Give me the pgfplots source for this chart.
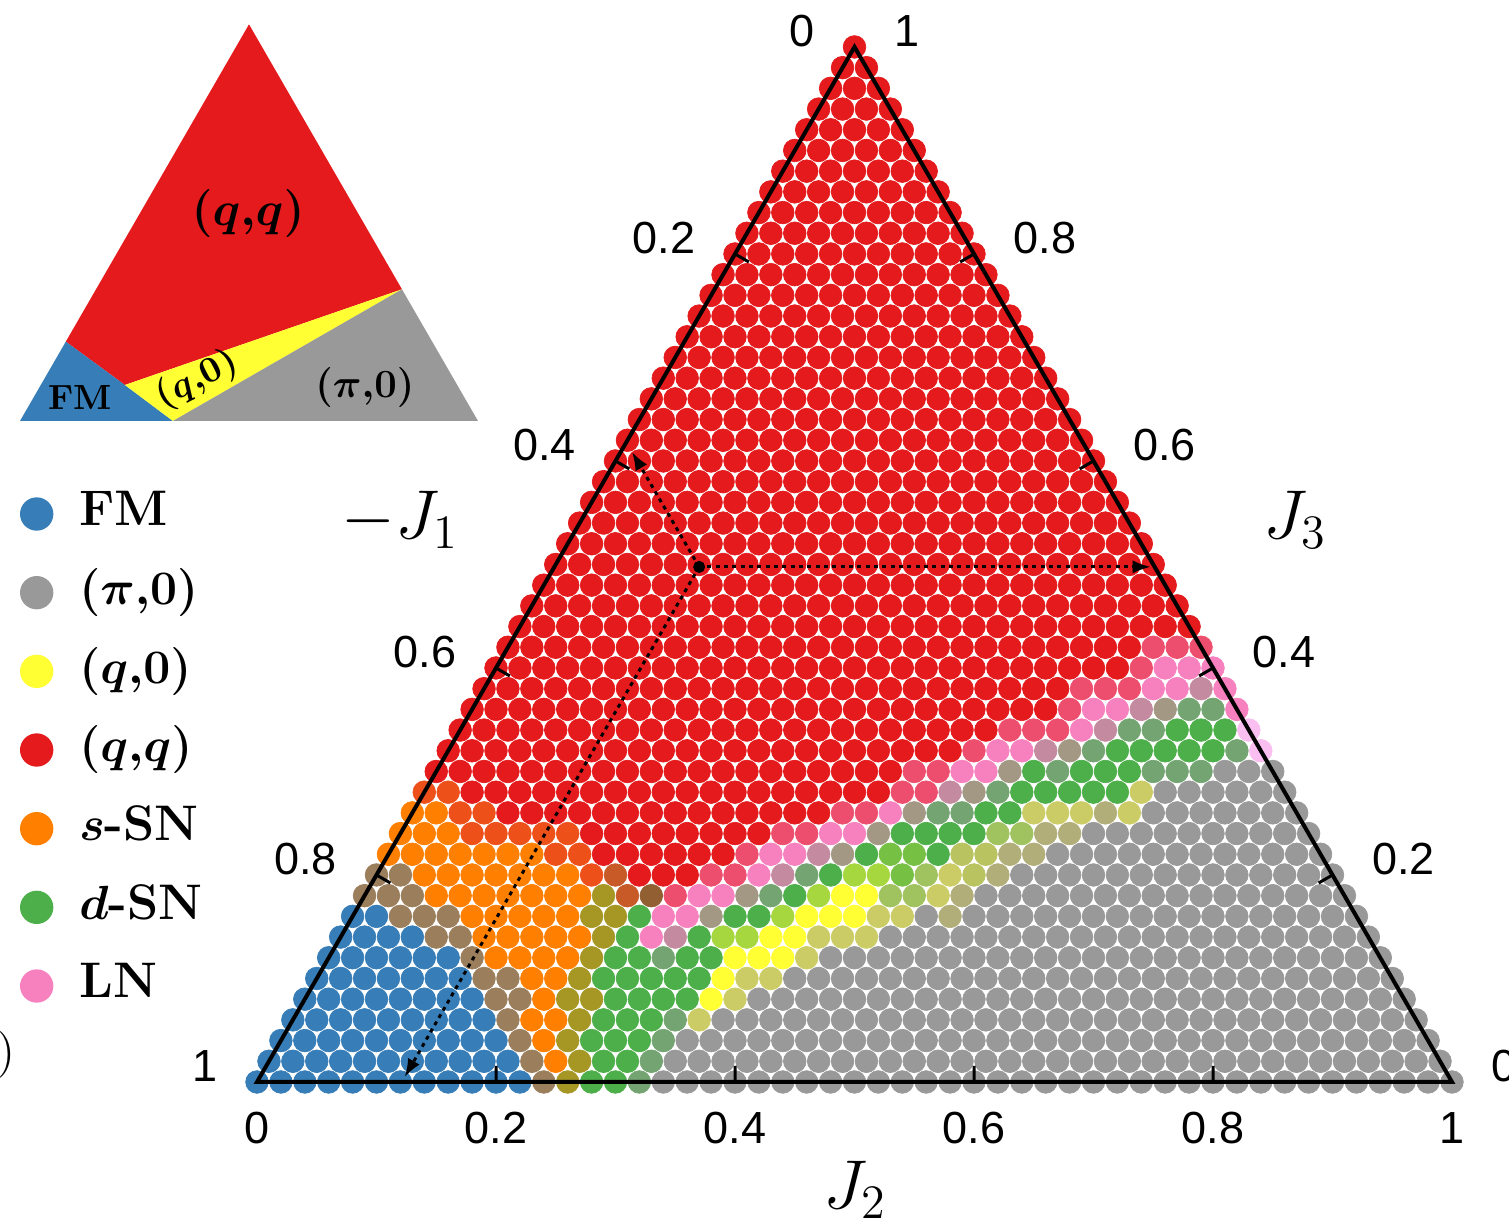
\documentclass[border=0pt]{standalone}
\usepackage[no-math]{fontspec}
\setsansfont{Liberation Sans}
\usepackage{pgfplots}
\pgfplotsset{compat=1.18}
\usetikzlibrary{arrows.meta}
\definecolor{cA}{RGB}{153,153,153}
\definecolor{cB}{RGB}{55,126,184}
\definecolor{cN}{RGB}{155,126,92}
\definecolor{cO}{RGB}{255,127,0}
\definecolor{cL}{RGB}{166,151,37}
\definecolor{cG}{RGB}{77,175,74}
\definecolor{cH}{RGB}{115,164,113}
\definecolor{cK}{RGB}{204,204,102}
\definecolor{cY}{RGB}{255,255,51}
\definecolor{cE}{RGB}{166,215,62}
\definecolor{cF}{RGB}{118,192,67}
\definecolor{cR}{RGB}{228,26,28}
\definecolor{cQ}{RGB}{238,80,26}
\definecolor{cS}{RGB}{237,78,110}
\definecolor{cP}{RGB}{247,129,191}
\definecolor{cM}{RGB}{196,138,160}
\definecolor{cT}{RGB}{162,152,132}
\definecolor{cV}{RGB}{160,194,95}
\definecolor{cU}{RGB}{185,195,95}
\definecolor{cW}{RGB}{178,174,122}
\definecolor{cX}{RGB}{200,90,40}
\definecolor{cD}{RGB}{146,95,50}
\definecolor{cI}{RGB}{250,190,240}
\begin{document}
\begin{tikzpicture}
% ---------------- inset schematic ----------------
\begin{axis}[at={(6pt,241.8pt)}, anchor=south west, scale only axis,
  width=137.4pt, height=118.99pt, xmin=0, xmax=1, ymin=0, ymax=0.8660254,
  hide axis, clip=false]
\addplot[fill=cR, draw=none] coordinates {(0.1,0.1732) (0.5,0.8660254) (0.834,0.2875) (0.229,0.0786) (0.1,0.1732)};
\addplot[fill=cB, draw=none] coordinates {(0,0) (0.1,0.1732) (0.229,0.0786) (0.334,0) (0,0)};
\addplot[fill=cY, draw=none] coordinates {(0.229,0.0786) (0.834,0.2875) (0.334,0) (0.229,0.0786)};
\addplot[fill=cA, draw=none] coordinates {(0.334,0) (0.834,0.2875) (1,0) (0.334,0)};
\node[font=\bfseries\boldmath\fontsize{13.5}{15}\selectfont] at (axis cs:0.498,0.454) {$(q{,}q)$};
\node[font=\bfseries\fontsize{10.5}{12}\selectfont] at (axis cs:0.131,0.052) {FM};
\node[font=\bfseries\boldmath\fontsize{11}{12}\selectfont, rotate=27, inner sep=0pt] at (axis cs:0.387,0.09) {$(q{,}0)$};
\node[font=\bfseries\boldmath\fontsize{11.5}{13}\selectfont] at (axis cs:0.753,0.072) {$(\pi{,}0)$};
\end{axis}
% ---------------- main ternary diagram ----------------
\begin{axis}[at={(77.1pt,43.5pt)}, anchor=south west, scale only axis,
  width=358.5pt, height=310.5pt, xmin=0, xmax=1, ymin=0, ymax=0.8660254,
  hide axis, clip=false, clip mode=individual, unbounded coords=jump,
  scatter/classes={A={cA},B={cB},N={cN},O={cO},L={cL},G={cG},H={cH},K={cK},Y={cY},E={cE},F={cF},Q={cQ},S={cS},P={cP},M={cM},T={cT},V={cV},U={cU},W={cW},X={cX},D={cD},I={cI},R={cR}},
  legend style={at={(axis description cs:-0.1983,0.58)}, anchor=north west, draw=none, fill=none,
    inner sep=0pt, row sep=4.6pt, column sep=6pt, font=\bfseries\boldmath\fontsize{15}{17}\selectfont,
    nodes={text height=11pt, text depth=4pt}, cells={anchor=west}},
  legend cell align=left]
\addlegendimage{only marks, mark=*, mark size=4.8pt, color=cB}
\addlegendentry{FM}
\addlegendimage{only marks, mark=*, mark size=4.8pt, color=cA}
\addlegendentry{$(\pi{,}0)$}
\addlegendimage{only marks, mark=*, mark size=4.8pt, color=cY}
\addlegendentry{$(q{,}0)$}
\addlegendimage{only marks, mark=*, mark size=4.8pt, color=cR}
\addlegendentry{$(q{,}q)$}
\addlegendimage{only marks, mark=*, mark size=4.8pt, color=cO}
\addlegendentry{$s$-SN}
\addlegendimage{only marks, mark=*, mark size=4.8pt, color=cG}
\addlegendentry{$d$-SN}
\addlegendimage{only marks, mark=*, mark size=4.8pt, color=cP}
\addlegendentry{LN}
% red (q,q) points: a = J2 index, b = J3 index (step 1/50)
\addplot[only marks, mark=*, mark size=3.4pt, line width=0.2pt, color=cR, forget plot]
 table[row sep=\\, x expr=(\thisrow{a}+0.5*\thisrow{b})/50, y expr=0.017320508*\thisrow{b}] {
a b\\
11 10\\12 10\\13 10\\
9 11\\10 11\\11 11\\12 11\\13 11\\14 11\\
8 12\\9 12\\10 12\\11 12\\12 12\\13 12\\14 12\\15 12\\
4 13\\5 13\\6 13\\7 13\\8 13\\9 13\\10 13\\11 13\\12 13\\13 13\\14 13\\15 13\\16 13\\17 13\\
2 14\\3 14\\4 14\\5 14\\6 14\\7 14\\8 14\\9 14\\10 14\\11 14\\12 14\\13 14\\14 14\\15 14\\16 14\\17 14\\18 14\\19 14\\
0 15\\1 15\\2 15\\3 15\\4 15\\5 15\\6 15\\7 15\\8 15\\9 15\\10 15\\11 15\\12 15\\13 15\\14 15\\15 15\\16 15\\17 15\\18 15\\19 15\\
0 16\\1 16\\2 16\\3 16\\4 16\\5 16\\6 16\\7 16\\8 16\\9 16\\10 16\\11 16\\12 16\\13 16\\14 16\\15 16\\16 16\\17 16\\18 16\\19 16\\20 16\\21 16\\
0 17\\1 17\\2 17\\3 17\\4 17\\5 17\\6 17\\7 17\\8 17\\9 17\\10 17\\11 17\\12 17\\13 17\\14 17\\15 17\\16 17\\17 17\\18 17\\19 17\\20 17\\21 17\\22 17\\
0 18\\1 18\\2 18\\3 18\\4 18\\5 18\\6 18\\7 18\\8 18\\9 18\\10 18\\11 18\\12 18\\13 18\\14 18\\15 18\\16 18\\17 18\\18 18\\19 18\\20 18\\21 18\\22 18\\23 18\\24 18\\
0 19\\1 19\\2 19\\3 19\\4 19\\5 19\\6 19\\7 19\\8 19\\9 19\\10 19\\11 19\\12 19\\13 19\\14 19\\15 19\\16 19\\17 19\\18 19\\19 19\\20 19\\21 19\\22 19\\23 19\\24 19\\
0 20\\1 20\\2 20\\3 20\\4 20\\5 20\\6 20\\7 20\\8 20\\9 20\\10 20\\11 20\\12 20\\13 20\\14 20\\15 20\\16 20\\17 20\\18 20\\19 20\\20 20\\21 20\\22 20\\23 20\\24 20\\25 20\\26 20\\
0 21\\1 21\\2 21\\3 21\\4 21\\5 21\\6 21\\7 21\\8 21\\9 21\\10 21\\11 21\\12 21\\13 21\\14 21\\15 21\\16 21\\17 21\\18 21\\19 21\\20 21\\21 21\\22 21\\23 21\\24 21\\25 21\\26 21\\
0 22\\1 22\\2 22\\3 22\\4 22\\5 22\\6 22\\7 22\\8 22\\9 22\\10 22\\11 22\\12 22\\13 22\\14 22\\15 22\\16 22\\17 22\\18 22\\19 22\\20 22\\21 22\\22 22\\23 22\\24 22\\25 22\\26 22\\27 22\\28 22\\
0 23\\1 23\\2 23\\3 23\\4 23\\5 23\\6 23\\7 23\\8 23\\9 23\\10 23\\11 23\\12 23\\13 23\\14 23\\15 23\\16 23\\17 23\\18 23\\19 23\\20 23\\21 23\\22 23\\23 23\\24 23\\25 23\\26 23\\27 23\\
0 24\\1 24\\2 24\\3 24\\4 24\\5 24\\6 24\\7 24\\8 24\\9 24\\10 24\\11 24\\12 24\\13 24\\14 24\\15 24\\16 24\\17 24\\18 24\\19 24\\20 24\\21 24\\22 24\\23 24\\24 24\\25 24\\26 24\\
0 25\\1 25\\2 25\\3 25\\4 25\\5 25\\6 25\\7 25\\8 25\\9 25\\10 25\\11 25\\12 25\\13 25\\14 25\\15 25\\16 25\\17 25\\18 25\\19 25\\20 25\\21 25\\22 25\\23 25\\24 25\\25 25\\
0 26\\1 26\\2 26\\3 26\\4 26\\5 26\\6 26\\7 26\\8 26\\9 26\\10 26\\11 26\\12 26\\13 26\\14 26\\15 26\\16 26\\17 26\\18 26\\19 26\\20 26\\21 26\\22 26\\23 26\\24 26\\
0 27\\1 27\\2 27\\3 27\\4 27\\5 27\\6 27\\7 27\\8 27\\9 27\\10 27\\11 27\\12 27\\13 27\\14 27\\15 27\\16 27\\17 27\\18 27\\19 27\\20 27\\21 27\\22 27\\23 27\\
0 28\\1 28\\2 28\\3 28\\4 28\\5 28\\6 28\\7 28\\8 28\\9 28\\10 28\\11 28\\12 28\\13 28\\14 28\\15 28\\16 28\\17 28\\18 28\\19 28\\20 28\\21 28\\22 28\\
0 29\\1 29\\2 29\\3 29\\4 29\\5 29\\6 29\\7 29\\8 29\\9 29\\10 29\\11 29\\12 29\\13 29\\14 29\\15 29\\16 29\\17 29\\18 29\\19 29\\20 29\\21 29\\
0 30\\1 30\\2 30\\3 30\\4 30\\5 30\\6 30\\7 30\\8 30\\9 30\\10 30\\11 30\\12 30\\13 30\\14 30\\15 30\\16 30\\17 30\\18 30\\19 30\\20 30\\
0 31\\1 31\\2 31\\3 31\\4 31\\5 31\\6 31\\7 31\\8 31\\9 31\\10 31\\11 31\\12 31\\13 31\\14 31\\15 31\\16 31\\17 31\\18 31\\19 31\\
0 32\\1 32\\2 32\\3 32\\4 32\\5 32\\6 32\\7 32\\8 32\\9 32\\10 32\\11 32\\12 32\\13 32\\14 32\\15 32\\16 32\\17 32\\18 32\\
0 33\\1 33\\2 33\\3 33\\4 33\\5 33\\6 33\\7 33\\8 33\\9 33\\10 33\\11 33\\12 33\\13 33\\14 33\\15 33\\16 33\\17 33\\
0 34\\1 34\\2 34\\3 34\\4 34\\5 34\\6 34\\7 34\\8 34\\9 34\\10 34\\11 34\\12 34\\13 34\\14 34\\15 34\\16 34\\
0 35\\1 35\\2 35\\3 35\\4 35\\5 35\\6 35\\7 35\\8 35\\9 35\\10 35\\11 35\\12 35\\13 35\\14 35\\15 35\\
0 36\\1 36\\2 36\\3 36\\4 36\\5 36\\6 36\\7 36\\8 36\\9 36\\10 36\\11 36\\12 36\\13 36\\14 36\\
0 37\\1 37\\2 37\\3 37\\4 37\\5 37\\6 37\\7 37\\8 37\\9 37\\10 37\\11 37\\12 37\\13 37\\
0 38\\1 38\\2 38\\3 38\\4 38\\5 38\\6 38\\7 38\\8 38\\9 38\\10 38\\11 38\\12 38\\
0 39\\1 39\\2 39\\3 39\\4 39\\5 39\\6 39\\7 39\\8 39\\9 39\\10 39\\11 39\\
0 40\\1 40\\2 40\\3 40\\4 40\\5 40\\6 40\\7 40\\8 40\\9 40\\10 40\\
0 41\\1 41\\2 41\\3 41\\4 41\\5 41\\6 41\\7 41\\8 41\\9 41\\
0 42\\1 42\\2 42\\3 42\\4 42\\5 42\\6 42\\7 42\\8 42\\
0 43\\1 43\\2 43\\3 43\\4 43\\5 43\\6 43\\7 43\\
0 44\\1 44\\2 44\\3 44\\4 44\\5 44\\6 44\\
0 45\\1 45\\2 45\\3 45\\4 45\\5 45\\
0 46\\1 46\\2 46\\3 46\\4 46\\
0 47\\1 47\\2 47\\3 47\\
0 48\\1 48\\2 48\\
0 49\\1 49\\
0 50\\
};
% all other phases (class letter in column c)
\addplot[scatter, only marks, mark=*, mark size=3.4pt, line width=0.2pt, scatter src=explicit symbolic, forget plot]
 table[row sep=\\, meta=c, x expr=(\thisrow{a}+0.5*\thisrow{b})/50, y expr=0.017320508*\thisrow{b}] {
a b c\\
0 0 B\\1 0 B\\2 0 B\\3 0 B\\4 0 B\\5 0 B\\6 0 B\\7 0 B\\8 0 B\\9 0 B\\10 0 B\\11 0 B\\12 0 N\\13 0 L\\14 0 G\\15 0 G\\16 0 H\\17 0 A\\18 0 A\\19 0 A\\20 0 A\\21 0 A\\22 0 A\\23 0 A\\24 0 A\\25 0 A\\26 0 A\\27 0 A\\28 0 A\\29 0 A\\30 0 A\\31 0 A\\32 0 A\\33 0 A\\34 0 A\\35 0 A\\36 0 A\\37 0 A\\38 0 A\\39 0 A\\40 0 A\\41 0 A\\42 0 A\\43 0 A\\44 0 A\\45 0 A\\46 0 A\\47 0 A\\48 0 A\\49 0 A\\50 0 A\\
0 1 B\\1 1 B\\2 1 B\\3 1 B\\4 1 B\\5 1 B\\6 1 B\\7 1 B\\8 1 B\\9 1 B\\10 1 B\\11 1 N\\12 1 O\\13 1 L\\14 1 G\\15 1 G\\16 1 H\\17 1 A\\18 1 A\\19 1 A\\20 1 A\\21 1 A\\22 1 A\\23 1 A\\24 1 A\\25 1 A\\26 1 A\\27 1 A\\28 1 A\\29 1 A\\30 1 A\\31 1 A\\32 1 A\\33 1 A\\34 1 A\\35 1 A\\36 1 A\\37 1 A\\38 1 A\\39 1 A\\40 1 A\\41 1 A\\42 1 A\\43 1 A\\44 1 A\\45 1 A\\46 1 A\\47 1 A\\48 1 A\\49 1 A\\
0 2 B\\1 2 B\\2 2 B\\3 2 B\\4 2 B\\5 2 B\\6 2 B\\7 2 B\\8 2 B\\9 2 B\\10 2 N\\11 2 O\\12 2 L\\13 2 G\\14 2 G\\15 2 G\\16 2 H\\17 2 A\\18 2 A\\19 2 A\\20 2 A\\21 2 A\\22 2 A\\23 2 A\\24 2 A\\25 2 A\\26 2 A\\27 2 A\\28 2 A\\29 2 A\\30 2 A\\31 2 A\\32 2 A\\33 2 A\\34 2 A\\35 2 A\\36 2 A\\37 2 A\\38 2 A\\39 2 A\\40 2 A\\41 2 A\\42 2 A\\43 2 A\\44 2 A\\45 2 A\\46 2 A\\47 2 A\\48 2 A\\
0 3 B\\1 3 B\\2 3 B\\3 3 B\\4 3 B\\5 3 B\\6 3 B\\7 3 B\\8 3 B\\9 3 N\\10 3 O\\11 3 O\\12 3 L\\13 3 G\\14 3 G\\15 3 G\\16 3 H\\17 3 K\\18 3 A\\19 3 A\\20 3 A\\21 3 A\\22 3 A\\23 3 A\\24 3 A\\25 3 A\\26 3 A\\27 3 A\\28 3 A\\29 3 A\\30 3 A\\31 3 A\\32 3 A\\33 3 A\\34 3 A\\35 3 A\\36 3 A\\37 3 A\\38 3 A\\39 3 A\\40 3 A\\41 3 A\\42 3 A\\43 3 A\\44 3 A\\45 3 A\\46 3 A\\47 3 A\\
0 4 B\\1 4 B\\2 4 B\\3 4 B\\4 4 B\\5 4 B\\6 4 B\\7 4 B\\8 4 N\\9 4 N\\10 4 O\\11 4 L\\12 4 L\\13 4 G\\14 4 G\\15 4 G\\16 4 G\\17 4 Y\\18 4 K\\19 4 A\\20 4 A\\21 4 A\\22 4 A\\23 4 A\\24 4 A\\25 4 A\\26 4 A\\27 4 A\\28 4 A\\29 4 A\\30 4 A\\31 4 A\\32 4 A\\33 4 A\\34 4 A\\35 4 A\\36 4 A\\37 4 A\\38 4 A\\39 4 A\\40 4 A\\41 4 A\\42 4 A\\43 4 A\\44 4 A\\45 4 A\\46 4 A\\
0 5 B\\1 5 B\\2 5 B\\3 5 B\\4 5 B\\5 5 B\\6 5 B\\7 5 N\\8 5 N\\9 5 O\\10 5 O\\11 5 L\\12 5 G\\13 5 G\\14 5 G\\15 5 G\\16 5 G\\17 5 Y\\18 5 K\\19 5 K\\20 5 A\\21 5 A\\22 5 A\\23 5 A\\24 5 A\\25 5 A\\26 5 A\\27 5 A\\28 5 A\\29 5 A\\30 5 A\\31 5 A\\32 5 A\\33 5 A\\34 5 A\\35 5 A\\36 5 A\\37 5 A\\38 5 A\\39 5 A\\40 5 A\\41 5 A\\42 5 A\\43 5 A\\44 5 A\\45 5 A\\
0 6 B\\1 6 B\\2 6 B\\3 6 B\\4 6 B\\5 6 B\\6 6 N\\7 6 O\\8 6 O\\9 6 O\\10 6 O\\11 6 L\\12 6 G\\13 6 G\\14 6 H\\15 6 G\\16 6 G\\17 6 Y\\18 6 Y\\19 6 Y\\20 6 K\\21 6 A\\22 6 A\\23 6 A\\24 6 A\\25 6 A\\26 6 A\\27 6 A\\28 6 A\\29 6 A\\30 6 A\\31 6 A\\32 6 A\\33 6 A\\34 6 A\\35 6 A\\36 6 A\\37 6 A\\38 6 A\\39 6 A\\40 6 A\\41 6 A\\42 6 A\\43 6 A\\44 6 A\\
0 7 B\\1 7 B\\2 7 B\\3 7 B\\4 7 N\\5 7 N\\6 7 O\\7 7 O\\8 7 O\\9 7 O\\10 7 O\\11 7 L\\12 7 G\\13 7 P\\14 7 M\\15 7 G\\16 7 E\\17 7 E\\18 7 Y\\19 7 Y\\20 7 K\\21 7 K\\22 7 K\\23 7 A\\24 7 A\\25 7 A\\26 7 A\\27 7 A\\28 7 A\\29 7 A\\30 7 A\\31 7 A\\32 7 A\\33 7 A\\34 7 A\\35 7 A\\36 7 A\\37 7 A\\38 7 A\\39 7 A\\40 7 A\\41 7 A\\42 7 A\\43 7 A\\
0 8 B\\1 8 B\\2 8 N\\3 8 N\\4 8 N\\5 8 O\\6 8 O\\7 8 O\\8 8 O\\9 8 O\\10 8 L\\11 8 L\\12 8 G\\13 8 P\\14 8 P\\15 8 T\\16 8 G\\17 8 G\\18 8 E\\19 8 Y\\20 8 Y\\21 8 Y\\22 8 K\\23 8 K\\24 8 A\\25 8 W\\26 8 A\\27 8 A\\28 8 A\\29 8 A\\30 8 A\\31 8 A\\32 8 A\\33 8 A\\34 8 A\\35 8 A\\36 8 A\\37 8 A\\38 8 A\\39 8 A\\40 8 A\\41 8 A\\42 8 A\\
0 9 N\\1 9 N\\2 9 N\\3 9 O\\4 9 O\\5 9 O\\6 9 O\\7 9 O\\8 9 O\\9 9 O\\10 9 L\\11 9 X\\12 9 D\\13 9 S\\14 9 P\\15 9 P\\16 9 T\\17 9 H\\18 9 G\\19 9 E\\20 9 Y\\21 9 Y\\22 9 V\\23 9 V\\24 9 K\\25 9 W\\26 9 A\\27 9 A\\28 9 A\\29 9 A\\30 9 A\\31 9 A\\32 9 A\\33 9 A\\34 9 A\\35 9 A\\36 9 A\\37 9 A\\38 9 A\\39 9 A\\40 9 A\\41 9 A\\
0 10 N\\1 10 N\\2 10 O\\3 10 O\\4 10 O\\5 10 O\\6 10 O\\7 10 O\\8 10 O\\9 10 Q\\10 10 X\\14 10 S\\15 10 S\\16 10 P\\17 10 M\\18 10 H\\19 10 G\\20 10 E\\21 10 E\\22 10 F\\23 10 V\\24 10 K\\25 10 U\\26 10 W\\27 10 A\\28 10 A\\29 10 A\\30 10 A\\31 10 A\\32 10 A\\33 10 A\\34 10 A\\35 10 A\\36 10 A\\37 10 A\\38 10 A\\39 10 A\\40 10 A\\
0 11 O\\1 11 O\\2 11 O\\3 11 O\\4 11 O\\5 11 O\\6 11 O\\7 11 Q\\8 11 Q\\15 11 S\\16 11 P\\17 11 P\\18 11 M\\19 11 T\\20 11 G\\21 11 F\\22 11 F\\23 11 G\\24 11 U\\25 11 U\\26 11 W\\27 11 W\\28 11 A\\29 11 A\\30 11 A\\31 11 A\\32 11 A\\33 11 A\\34 11 A\\35 11 A\\36 11 A\\37 11 A\\38 11 A\\39 11 A\\
0 12 O\\1 12 O\\2 12 O\\3 12 Q\\4 12 Q\\5 12 Q\\6 12 Q\\7 12 Q\\16 12 S\\17 12 S\\18 12 P\\19 12 P\\20 12 T\\21 12 G\\22 12 G\\23 12 G\\24 12 G\\25 12 V\\26 12 V\\27 12 W\\28 12 W\\29 12 A\\30 12 A\\31 12 A\\32 12 A\\33 12 A\\34 12 A\\35 12 A\\36 12 A\\37 12 A\\38 12 A\\
0 13 O\\1 13 O\\2 13 Q\\3 13 Q\\18 13 S\\19 13 S\\20 13 P\\21 13 T\\22 13 H\\23 13 H\\24 13 G\\25 13 G\\26 13 K\\27 13 K\\28 13 K\\29 13 W\\30 13 K\\31 13 A\\32 13 A\\33 13 A\\34 13 A\\35 13 A\\36 13 A\\37 13 A\\
0 14 Q\\1 14 Q\\20 14 S\\21 14 S\\22 14 M\\23 14 T\\24 14 H\\25 14 G\\26 14 G\\27 14 G\\28 14 G\\29 14 G\\30 14 K\\31 14 A\\32 14 A\\33 14 A\\34 14 A\\35 14 A\\36 14 A\\
20 15 S\\21 15 S\\22 15 P\\23 15 P\\24 15 T\\25 15 G\\26 15 H\\27 15 G\\28 15 G\\29 15 G\\30 15 H\\31 15 H\\32 15 H\\33 15 A\\34 15 A\\35 15 A\\
22 16 S\\23 16 P\\24 16 P\\25 16 M\\26 16 T\\27 16 H\\28 16 G\\29 16 G\\30 16 G\\31 16 G\\32 16 G\\33 16 H\\34 16 I\\
23 17 S\\24 17 S\\25 17 S\\26 17 P\\27 17 M\\28 17 H\\29 17 H\\30 17 G\\31 17 G\\32 17 G\\33 17 I\\
25 18 S\\26 18 P\\27 18 P\\28 18 M\\29 18 T\\30 18 H\\31 18 H\\32 18 P\\
25 19 S\\26 19 S\\27 19 S\\28 19 P\\29 19 P\\30 19 M\\31 19 P\\
27 20 S\\28 20 P\\29 20 P\\30 20 P\\
27 21 S\\28 21 S\\29 21 S\\
};
% triangle frame and ticks (on top of the dots)
\addplot[black, line width=1.2pt, line join=miter, forget plot] coordinates {(0,0) (1,0) (0.5,0.8660254) (0,0) (1,0)};
\addplot[black, line width=0.9pt, forget plot] coordinates {
 (0.2,0) (0.2,0.0134) (nan,nan) (0.4,0) (0.4,0.0134) (nan,nan) (0.6,0) (0.6,0.0134) (nan,nan) (0.8,0) (0.8,0.0134) (nan,nan)
 (0.4,0.69282) (0.4116,0.68612) (nan,nan) (0.3,0.519615) (0.3116,0.512915) (nan,nan) (0.2,0.34641) (0.2116,0.33971) (nan,nan) (0.1,0.173205) (0.1116,0.166505) (nan,nan)
 (0.9,0.173205) (0.8884,0.166505) (nan,nan) (0.8,0.34641) (0.7884,0.33971) (nan,nan) (0.7,0.519615) (0.6884,0.512915) (nan,nan) (0.6,0.69282) (0.5884,0.68612)};
% reading guide
\addplot[black, line width=0.9pt, dash pattern=on 1.2pt off 1.3pt, -{Latex[length=5.5pt,width=4pt]}, forget plot] coordinates {(0.37,0.431) (0.1235,0.004)};
\addplot[black, line width=0.9pt, dash pattern=on 1.2pt off 1.3pt, -{Latex[length=5.5pt,width=4pt]}, forget plot] coordinates {(0.37,0.431) (0.748,0.431)};
\addplot[black, line width=0.9pt, dash pattern=on 1.2pt off 1.3pt, -{Latex[length=5.5pt,width=4pt]}, forget plot] coordinates {(0.37,0.431) (0.3138,0.5272)};
\addplot[only marks, mark=*, mark size=1.6pt, black, forget plot] coordinates {(0.37,0.431)};
% tick labels
\begin{scope}[every node/.style={font=\sffamily\fontsize{13.5}{16}\selectfont, inner sep=0pt}]
\node at (axis cs:0,-0.0385) {0};
\node at (axis cs:0.2,-0.0385) {0.2};
\node at (axis cs:0.4,-0.0385) {0.4};
\node at (axis cs:0.6,-0.0385) {0.6};
\node at (axis cs:0.8,-0.0385) {0.8};
\node at (axis cs:1,-0.0385) {1};
\node[anchor=east, xshift=-11.7pt, yshift=4.8pt] at (axis cs:0.5,0.8660254) {0};
\node[anchor=east, xshift=-11.7pt, yshift=4.8pt] at (axis cs:0.4,0.69282) {0.2};
\node[anchor=east, xshift=-11.7pt, yshift=4.8pt] at (axis cs:0.3,0.519615) {0.4};
\node[anchor=east, xshift=-11.7pt, yshift=4.8pt] at (axis cs:0.2,0.34641) {0.6};
\node[anchor=east, xshift=-11.7pt, yshift=4.8pt] at (axis cs:0.1,0.173205) {0.8};
\node[anchor=east, xshift=-11.7pt, yshift=4.8pt] at (axis cs:0,0) {1};
\node[anchor=west, xshift=11.7pt, yshift=4.8pt] at (axis cs:0.5,0.8660254) {1};
\node[anchor=west, xshift=11.7pt, yshift=4.8pt] at (axis cs:0.6,0.69282) {0.8};
\node[anchor=west, xshift=11.7pt, yshift=4.8pt] at (axis cs:0.7,0.519615) {0.6};
\node[anchor=west, xshift=11.7pt, yshift=4.8pt] at (axis cs:0.8,0.34641) {0.4};
\node[anchor=west, xshift=11.7pt, yshift=4.8pt] at (axis cs:0.9,0.173205) {0.2};
\node[anchor=west, xshift=11.7pt, yshift=4.8pt] at (axis cs:1,0) {0};
\end{scope}
% axis titles
\node[font=\fontsize{20}{24}\selectfont] at (axis cs:0.5004,-0.0904) {$J_2$};
\node[font=\fontsize{20}{24}\selectfont] at (axis cs:0.1197,0.4703) {$-J_1$};
\node[font=\fontsize{20}{24}\selectfont] at (axis cs:0.8686,0.4703) {$J_3$};
\end{axis}
\node[font=\fontsize{14}{16}\selectfont] at (2pt,51.6pt) {)};
\pgfresetboundingbox
\path (0,0) rectangle (452.7pt,368.1pt);
\end{tikzpicture}
\end{document}
